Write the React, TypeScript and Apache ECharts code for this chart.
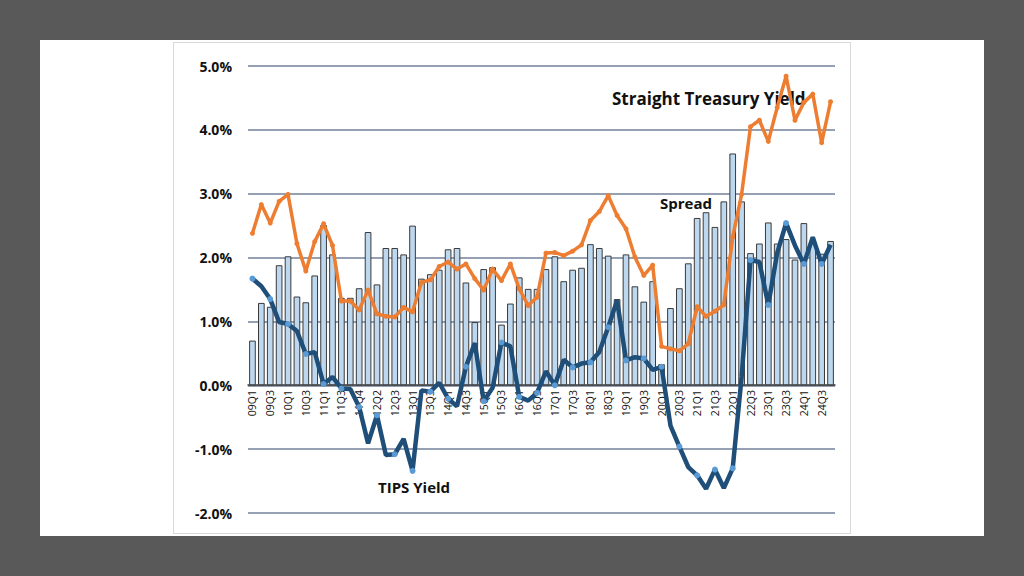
import { useEffect, useRef } from "react";
import * as echarts from "echarts";

const categories = [
  "09Q1", "09Q2", "09Q3", "09Q4", "10Q1", "10Q2", "10Q3", "10Q4",
  "11Q1", "11Q2", "11Q3", "11Q3", "11Q4", "12Q1", "12Q2", "12Q2",
  "12Q3", "12Q4", "13Q1", "13Q2", "13Q3", "13Q4", "14Q1", "14Q2",
  "14Q3", "14Q4", "15Q1", "15Q2", "15Q3", "15Q4", "16Q1", "16Q2",
  "16Q3", "16Q4", "17Q1", "17Q2", "17Q3", "17Q4", "18Q1", "18Q2",
  "18Q3", "18Q4", "19Q1", "19Q2", "19Q3", "19Q4", "20Q1", "20Q2",
  "20Q3", "20Q4", "21Q1", "21Q2", "21Q3", "21Q4", "22Q1", "22Q2",
  "22Q3", "22Q4", "23Q1", "23Q2", "23Q3", "23Q4", "24Q1", "24Q2",
  "24Q3", "24Q4",
];

const spread = [
  0.70, 1.29, 1.23, 1.88, 2.02, 1.39, 1.30, 1.72, 2.51, 2.05,
  1.37, 1.37, 1.52, 2.40, 1.58, 2.15, 2.15, 2.05, 2.50, 1.67,
  1.74, 1.81, 2.13, 2.15, 1.61, 0.99, 1.82, 1.85, 0.95, 1.28,
  1.69, 1.51, 1.51, 1.82, 2.02, 1.63, 1.81, 1.84, 2.21, 2.15,
  2.03, 1.35, 2.05, 1.55, 1.31, 1.63, 0.33, 1.21, 1.52, 1.91,
  2.62, 2.71, 2.48, 2.88, 3.63, 2.88, 2.07, 2.22, 2.55, 2.22,
  2.29, 1.97, 2.54, 2.24, 2.06, 2.26,
];

const treasuryYield = [
  2.38, 2.83, 2.54, 2.88, 2.99, 2.22, 1.79, 2.25, 2.53, 2.19,
  1.32, 1.32, 1.18, 1.49, 1.12, 1.08, 1.07, 1.22, 1.15, 1.61,
  1.65, 1.86, 1.93, 1.82, 1.90, 1.67, 1.49, 1.82, 1.64, 1.90,
  1.51, 1.25, 1.38, 2.07, 2.08, 2.03, 2.10, 2.20, 2.58, 2.72,
  2.97, 2.66, 2.45, 2.01, 1.72, 1.88, 0.61, 0.57, 0.54, 0.65,
  1.23, 1.08, 1.16, 1.26, 2.32, 2.99, 4.05, 4.15, 3.82, 4.35,
  4.84, 4.15, 4.43, 4.56, 3.80, 4.44,
];

const tipsYield = [
  1.67, 1.55, 1.35, 0.99, 0.96, 0.85, 0.49, 0.52, 0.02, 0.13,
  -0.05, -0.06, -0.34, -0.91, -0.47, -1.09, -1.08, -0.84, -1.34, -0.08,
  -0.10, 0.04, -0.21, -0.33, 0.29, 0.66, -0.25, -0.04, 0.67, 0.61,
  -0.18, -0.24, -0.12, 0.22, 0.00, 0.40, 0.28, 0.34, 0.36, 0.52,
  0.91, 1.33, 0.39, 0.44, 0.42, 0.24, 0.29, -0.63, -0.96, -1.28,
  -1.41, -1.62, -1.32, -1.61, -1.30, 0.13, 1.96, 1.93, 1.26, 2.07,
  2.54, 2.19, 1.90, 2.32, 1.90, 2.20,
];

const FONT = "'Open Sans', 'Noto Sans', Arial, sans-serif";

export default function App() {
  const ref = useRef<HTMLDivElement>(null);

  useEffect(() => {
    if (!ref.current) return;
    const chart = echarts.init(ref.current, null, { renderer: "svg" });
    chart.setOption({
      animation: false,
      backgroundColor: "transparent",
      grid: { left: 248, right: 189, top: 66, bottom: 63 },
      xAxis: {
        type: "category",
        data: categories,
        boundaryGap: true,
        position: "bottom",
        offset: -128,
        axisLine: { onZero: false, lineStyle: { color: "#3a3a3a", width: 1.5 } },
        axisTick: { show: false },
        axisLabel: {
          interval: 1,
          rotate: 90,
          fontSize: 10.5,
          color: "#111",
          fontFamily: FONT,
          margin: 5,
        },
        splitLine: { show: false },
      },
      yAxis: {
        type: "value",
        min: -2,
        max: 5,
        interval: 1,
        axisLine: { show: false },
        axisTick: { show: false },
        axisLabel: {
          formatter: (v: number) => v.toFixed(1) + "%",
          fontSize: 14,
          fontWeight: "bold",
          color: "#111",
          fontFamily: FONT,
          margin: 16,
        },
        splitLine: { lineStyle: { color: "#72829A", width: 1.6 } },
      },
      series: [
        {
          name: "Spread",
          type: "bar",
          data: spread,
          barCategoryGap: "25%",
          itemStyle: { color: "#BDD7EE", borderColor: "#3a3a3a", borderWidth: 1 },
          z: 2,
        },
        {
          name: "Straight Treasury Yield",
          type: "line",
          data: treasuryYield,
          symbol: "circle",
          symbolSize: 5,
          lineStyle: { color: "#ED7D31", width: 3.5 },
          itemStyle: { color: "#ED7D31" },
          z: 3,
        },
        {
          name: "TIPS Yield",
          type: "line",
          data: tipsYield,
          symbol: "circle",
          symbolSize: 6,
          lineStyle: { color: "#1F4E79", width: 4.5 },
          itemStyle: { color: "#5B9BD5" },
          z: 4,
        },
      ],
      graphic: [
        {
          type: "text",
          left: 612,
          top: 90,
          style: { text: "Straight Treasury Yield", fontSize: 17, fontWeight: "bold", fill: "#111", fontFamily: FONT },
        },
        {
          type: "text",
          left: 660,
          top: 195,
          style: { text: "Spread", fontSize: 15, fontWeight: "bold", fill: "#111", fontFamily: FONT },
        },
        {
          type: "text",
          left: 378,
          top: 479,
          style: { text: "TIPS Yield", fontSize: 15, fontWeight: "bold", fill: "#111", fontFamily: FONT },
        },
      ],
    });
    return () => chart.dispose();
  }, []);

  return (
    <div
      style={{
        position: "fixed",
        left: 0,
        top: 0,
        width: 1024,
        height: 576,
        background: "#595959",
        overflow: "hidden",
      }}
    >
      <div style={{ position: "absolute", left: 40, top: 40, width: 944, height: 496, background: "#ffffff" }} />
      <div
        style={{
          position: "absolute",
          left: 173,
          top: 42,
          width: 678,
          height: 492,
          border: "1px solid #D9D9D9",
          boxSizing: "border-box",
        }}
      />
      <div ref={ref} style={{ position: "absolute", left: 0, top: 0, width: 1024, height: 576 }} />
    </div>
  );
}
